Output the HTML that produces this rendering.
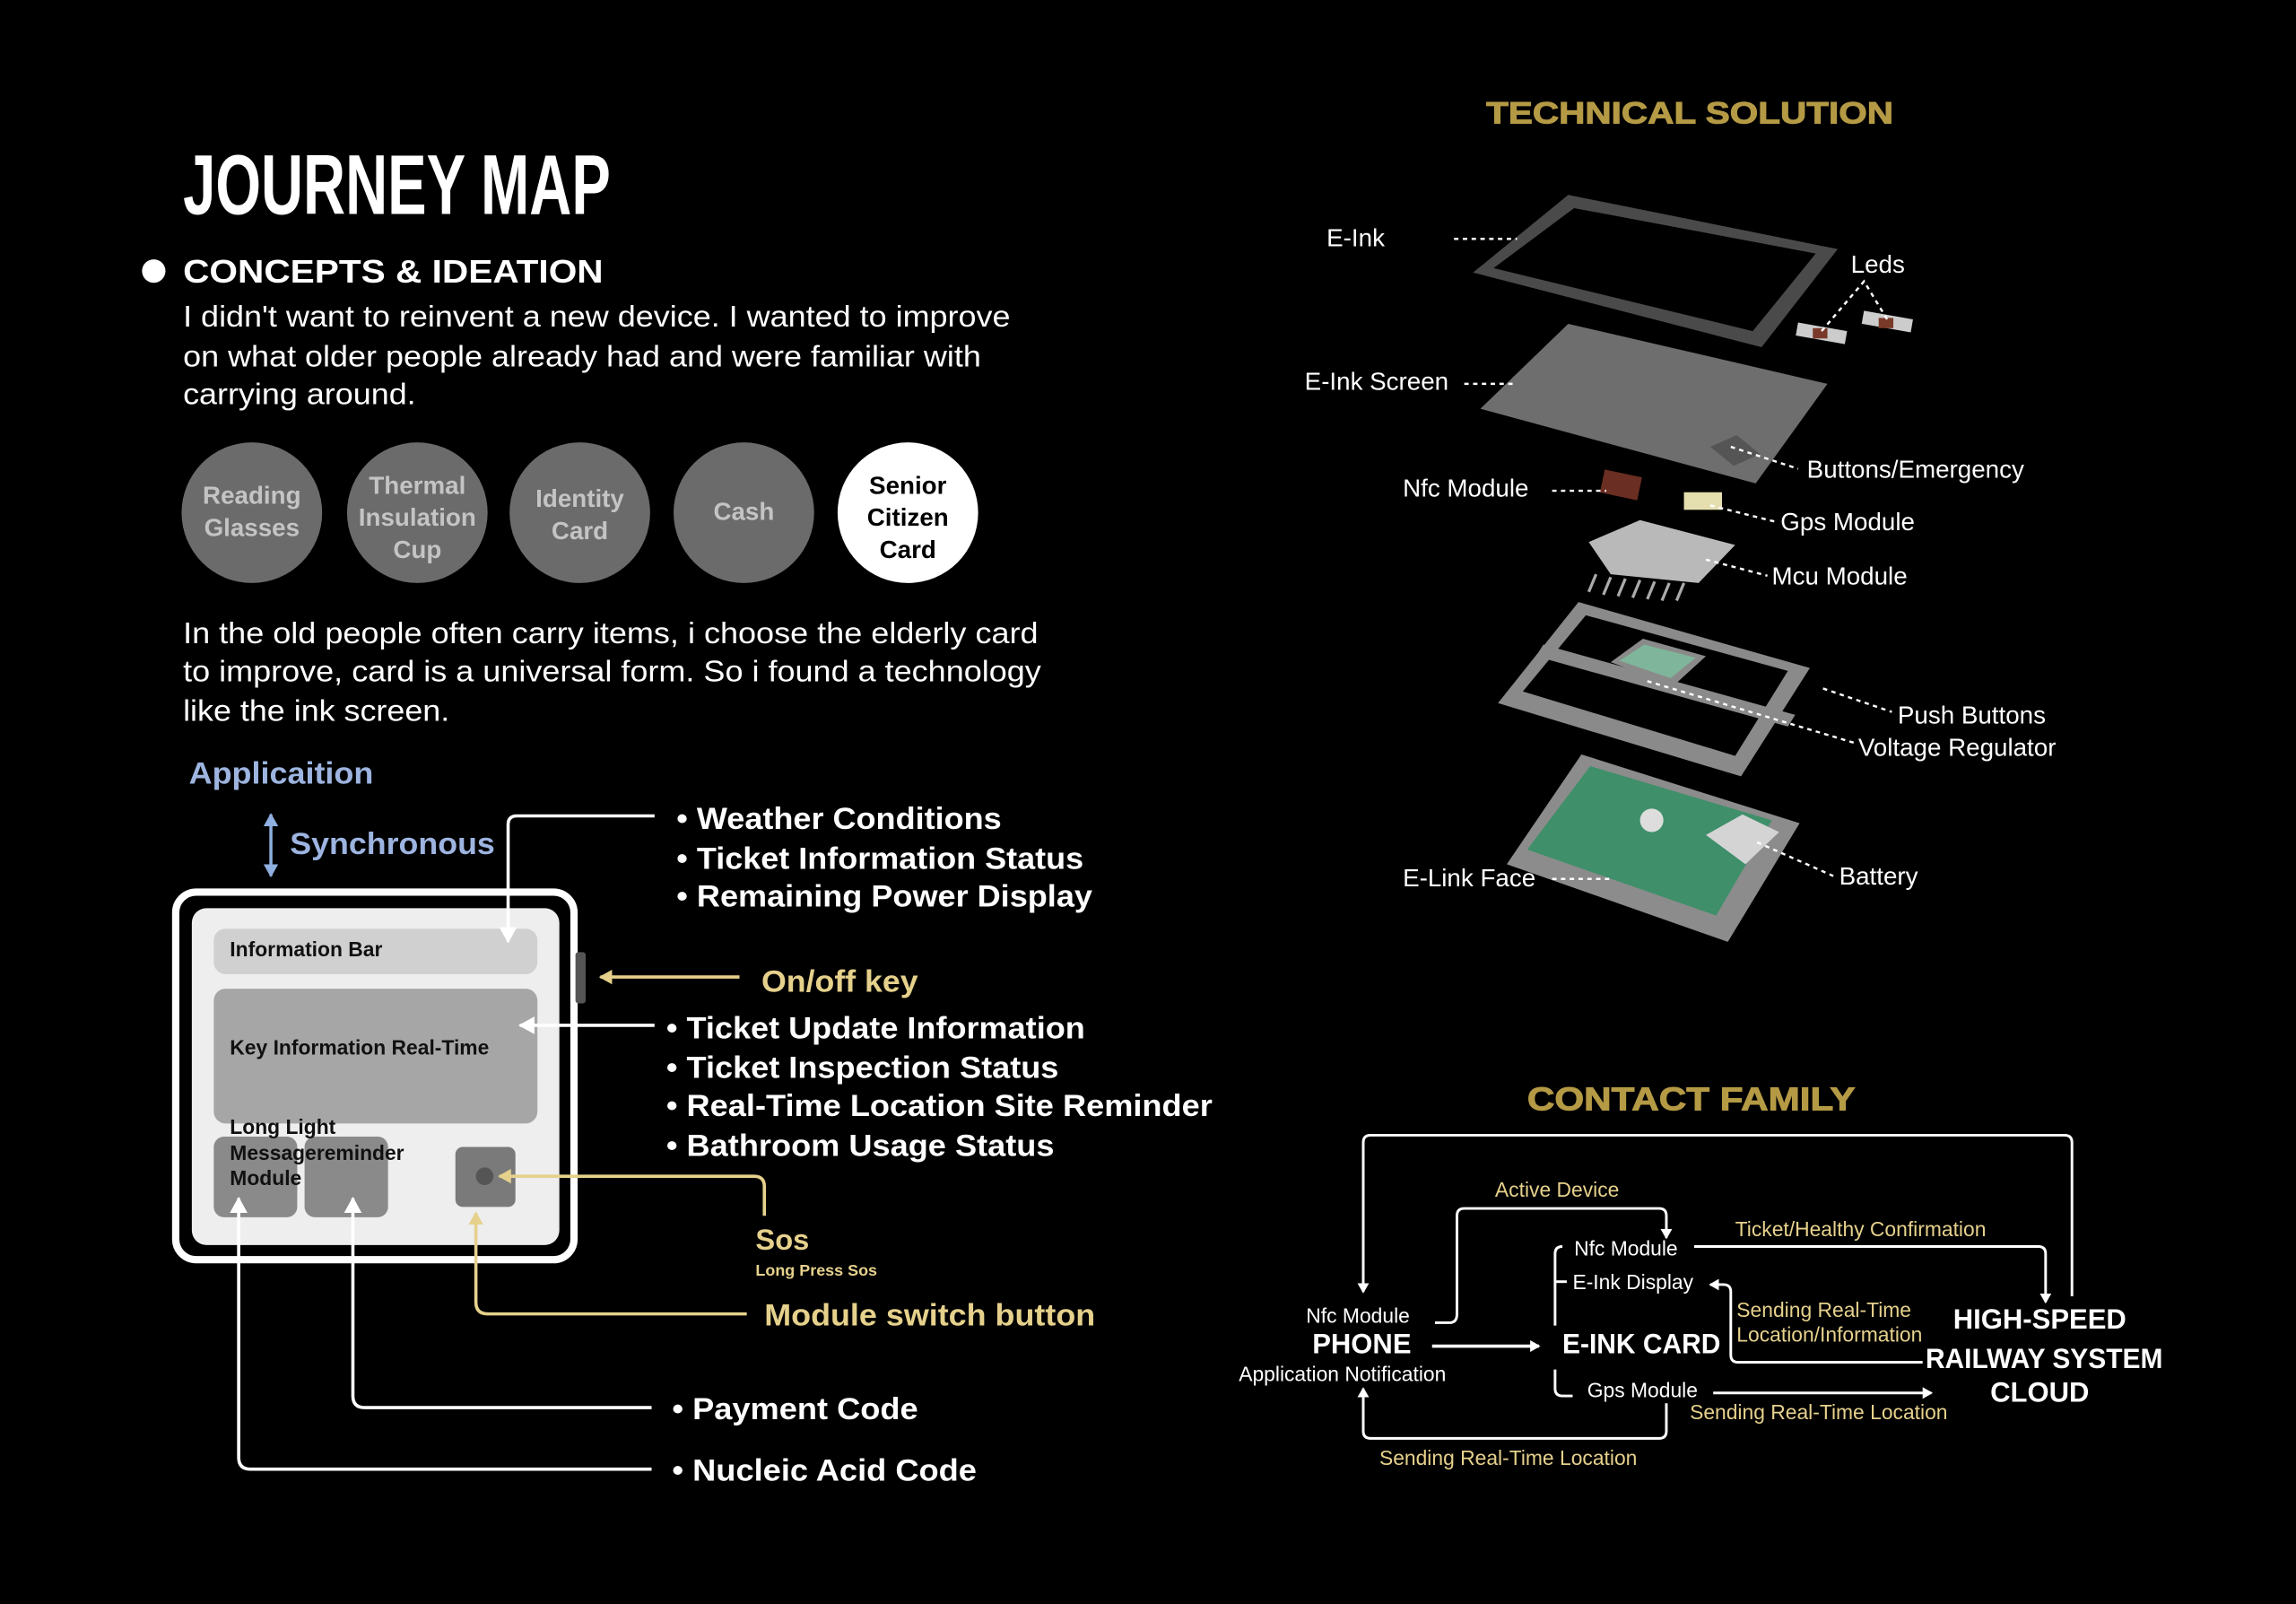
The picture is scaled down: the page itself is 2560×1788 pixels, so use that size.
<!DOCTYPE html>
<html><head><meta charset="utf-8"><style>
html,body{margin:0;padding:0;background:#000;}
svg{display:block}
text{font-family:"Liberation Sans",sans-serif;}
.w{fill:#fff}
.y{fill:#e6d18c}
.b{font-weight:bold}
.n{font-family:"Liberation Sans Narrow","Liberation Sans",sans-serif;}
</style></head><body>
<svg width="2560" height="1788" viewBox="0 0 1568 1095" xmlns="http://www.w3.org/2000/svg">
<defs>
<marker id="aw" markerWidth="8" markerHeight="8" refX="6" refY="4" orient="auto" markerUnits="userSpaceOnUse"><path d="M0,0 L7,4 L0,8 Z" fill="#fff"/></marker>
<marker id="ay" markerWidth="10" markerHeight="10" refX="8" refY="5" orient="auto" markerUnits="userSpaceOnUse"><path d="M0,0 L9,5 L0,10 Z" fill="#e6d18c"/></marker>
<marker id="ab" markerWidth="10" markerHeight="10" refX="8" refY="5" orient="auto" markerUnits="userSpaceOnUse"><path d="M0,0 L9,5 L0,10 Z" fill="#8fb0e0"/></marker>
<marker id="awl" markerWidth="12" markerHeight="12" refX="10" refY="6" orient="auto" markerUnits="userSpaceOnUse"><path d="M0,0 L11,6 L0,12 Z" fill="#fff"/></marker>
</defs>
<rect width="1568" height="1095" fill="#000"/>

<!-- LEFT -->
<text x="125" y="146" class="w b n" font-size="58" textLength="292" lengthAdjust="spacingAndGlyphs">JOURNEY MAP</text>
<circle cx="105" cy="185" r="8" fill="#fff"/>
<text x="125" y="193" class="w b" font-size="22" textLength="287" lengthAdjust="spacingAndGlyphs">CONCEPTS &amp; IDEATION</text>
<g class="w" font-size="20.5">
<text x="125" y="223" textLength="565" lengthAdjust="spacingAndGlyphs">I didn't want to reinvent a new device. I wanted to improve</text>
<text x="125" y="250" textLength="545" lengthAdjust="spacingAndGlyphs">on what older people already had and were familiar with</text>
<text x="125" y="276" textLength="159" lengthAdjust="spacingAndGlyphs">carrying around.</text>
<text x="125" y="439" textLength="584" lengthAdjust="spacingAndGlyphs">In the old people often carry items, i choose the elderly card</text>
<text x="125" y="465" textLength="586" lengthAdjust="spacingAndGlyphs">to improve, card is a universal form. So i found a technology</text>
<text x="125" y="492" textLength="182" lengthAdjust="spacingAndGlyphs">like the ink screen.</text>
</g>
<g font-size="17" font-weight="bold" text-anchor="middle" fill="#c4c4c4">
<circle cx="172" cy="350" r="48" fill="#6b6b6b"/>
<text x="172" y="344">Reading</text><text x="172" y="366">Glasses</text>
<circle cx="285" cy="350" r="48" fill="#6b6b6b"/>
<text x="285" y="337">Thermal</text><text x="285" y="359">Insulation</text><text x="285" y="381">Cup</text>
<circle cx="396" cy="350" r="48" fill="#6b6b6b"/>
<text x="396" y="346">Identity</text><text x="396" y="368">Card</text>
<circle cx="508" cy="350" r="48" fill="#6b6b6b"/>
<text x="508" y="355">Cash</text>
<circle cx="620" cy="350" r="48" fill="#fff"/>
<g fill="#000"><text x="620" y="337">Senior</text><text x="620" y="359">Citizen</text><text x="620" y="381">Card</text></g>
</g>

<text x="129" y="535" font-size="21" font-weight="bold" fill="#9db4e0" textLength="126" lengthAdjust="spacingAndGlyphs">Applicaition</text>
<line x1="185" y1="556" x2="185" y2="598" stroke="#8fb0e0" stroke-width="2" marker-end="url(#ab)"/>
<line x1="185" y1="598" x2="185" y2="556" stroke="#8fb0e0" stroke-width="2" marker-end="url(#ab)"/>
<text x="198" y="583" font-size="21" font-weight="bold" fill="#9db4e0" textLength="140" lengthAdjust="spacingAndGlyphs">Synchronous</text>

<!-- device -->
<rect x="120" y="609" width="272" height="251" rx="14" fill="#000" stroke="#fff" stroke-width="5"/>
<rect x="131" y="620" width="251" height="230" rx="10" fill="#eeeeee"/>
<rect x="146" y="634" width="221" height="31" rx="8" fill="#d0d0d0"/>
<rect x="146" y="675" width="221" height="92" rx="8" fill="#a6a6a6"/>
<rect x="146" y="776" width="57" height="55" rx="7" fill="#8a8a8a"/>
<rect x="208" y="776" width="57" height="55" rx="7" fill="#8a8a8a"/>
<rect x="311" y="783" width="41" height="41" rx="5" fill="#7a7a7a"/>
<circle cx="331" cy="803" r="6" fill="#555"/>
<rect x="393" y="650" width="7" height="35" rx="2" fill="#555"/>
<g font-size="14" font-weight="bold" fill="#111" class="n">
<text x="157" y="653">Information Bar</text>
<text x="157" y="720">Key Information Real-Time</text>
<text x="157" y="774">Long Light</text>
<text x="157" y="792">Messagereminder</text>
<text x="157" y="809">Module</text>
</g>

<g fill="none" stroke-width="2.2">
<path d="M447,557 H353 Q347,557 347,563 V643" stroke="#fff" marker-end="url(#awl)"/>
<path d="M447,700 H355" stroke="#fff" marker-end="url(#awl)"/>
<path d="M505,667 H410" stroke="#e6d18c" marker-end="url(#ay)"/>
<path d="M522,830 V810 Q522,803 515,803 H341" stroke="#e6d18c" marker-end="url(#ay)"/>
<path d="M510,897 H333 Q325,897 325,889 V828" stroke="#e6d18c" marker-end="url(#ay)"/>
<path d="M445,961 H249 Q241,961 241,953 V818" stroke="#fff" marker-end="url(#awl)"/>
<path d="M445,1003 H171 Q163,1003 163,995 V818" stroke="#fff" marker-end="url(#awl)"/>
</g>
<g class="w b n" font-size="21">
<text x="462" y="566" textLength="222" lengthAdjust="spacingAndGlyphs">• Weather Conditions</text>
<text x="462" y="593" textLength="278" lengthAdjust="spacingAndGlyphs">• Ticket Information Status</text>
<text x="462" y="619" textLength="284" lengthAdjust="spacingAndGlyphs">• Remaining Power Display</text>
<text x="455" y="709" textLength="286" lengthAdjust="spacingAndGlyphs">• Ticket Update Information</text>
<text x="455" y="736" textLength="268" lengthAdjust="spacingAndGlyphs">• Ticket Inspection Status</text>
<text x="455" y="762" textLength="373" lengthAdjust="spacingAndGlyphs">• Real-Time Location Site Reminder</text>
<text x="455" y="789" textLength="265" lengthAdjust="spacingAndGlyphs">• Bathroom Usage Status</text>
<text x="459" y="969" textLength="168" lengthAdjust="spacingAndGlyphs">• Payment Code</text>
<text x="459" y="1011" textLength="208" lengthAdjust="spacingAndGlyphs">• Nucleic Acid Code</text>
</g>
<g class="y b n">
<text x="520" y="677" font-size="21" textLength="107" lengthAdjust="spacingAndGlyphs">On/off key</text>
<text x="516" y="853" font-size="20">Sos</text>
<text x="516" y="871" font-size="11">Long Press Sos</text>
<text x="522" y="905" font-size="21" textLength="226" lengthAdjust="spacingAndGlyphs">Module switch button</text>
</g>

<!-- RIGHT: technical -->
<text x="1154" y="84" text-anchor="middle" font-size="21" font-weight="bold" fill="#b59a45" stroke="#b59a45" stroke-width="0.6" textLength="278" lengthAdjust="spacingAndGlyphs">TECHNICAL SOLUTION</text>
<polygon points="1006,186 1071,133 1255,170 1203,237" fill="#4a4a4a"/>
<polygon points="1020,183 1075,142 1240,173 1197,226" fill="#000"/>
<polygon points="1011,279 1071,221 1248,262 1199,330" fill="#6e6e6e"/>
<polygon points="1168,305 1186,297 1202,310 1184,318" fill="#555"/>
<rect x="1227" y="223" width="34" height="9" fill="#ccc" transform="rotate(10 1244 227)"/>
<rect x="1272" y="215" width="34" height="9" fill="#ccc" transform="rotate(10 1289 219)"/>
<rect x="1238" y="224" width="10" height="7" fill="#7a3a2a"/><rect x="1283" y="217" width="10" height="7" fill="#7a3a2a"/>
<rect x="1094" y="323" width="26" height="16" fill="#6a2e22" transform="rotate(12 1107 331)"/>
<rect x="1150" y="336" width="26" height="12" fill="#e5dfb0"/>
<polygon points="1085,370 1120,355 1185,372 1160,398 1100,392" fill="#b9b9b9"/>
<g stroke="#aaa" stroke-width="2">
<line x1="1090" y1="392" x2="1085" y2="404"/><line x1="1100" y1="394" x2="1095" y2="406"/><line x1="1110" y1="395" x2="1105" y2="407"/><line x1="1120" y1="396" x2="1115" y2="408"/><line x1="1130" y1="397" x2="1125" y2="409"/><line x1="1140" y1="398" x2="1135" y2="410"/><line x1="1150" y1="398" x2="1145" y2="410"/>
</g>
<polygon points="1023,480 1078,411 1236,456 1189,530" fill="#8a8a8a"/>
<polygon points="1040,472 1083,420 1221,458 1185,516" fill="#000"/>
<polygon points="1054,440 1226,488 1221,496 1049,448" fill="#8a8a8a"/>
<polygon points="1100,452 1122,436 1165,448 1143,468" fill="#8a8a8a"/>
<polygon points="1106,451 1123,440 1158,449 1141,463" fill="#7fb59a"/>
<polygon points="1029,590 1080,515 1229,562 1180,643" fill="#8c8c8c"/>
<polygon points="1043,580 1086,523 1210,560 1172,625" fill="#3f8f6a"/>
<polygon points="1165,570 1190,556 1215,568 1192,590" fill="#d4d4d4"/>
<circle cx="1128" cy="560" r="8" fill="#ddd"/>
<g fill="none" stroke="#fff" stroke-width="1.5" stroke-dasharray="3,3">
<line x1="993" y1="163" x2="1036" y2="163"/>
<path d="M1244,226 L1273,192 L1290,220"/>
<line x1="1000" y1="262" x2="1036" y2="262"/>
<line x1="1182" y1="305" x2="1228" y2="320"/>
<line x1="1060" y1="335" x2="1097" y2="335"/>
<line x1="1168" y1="345" x2="1212" y2="356"/>
<line x1="1165" y1="382" x2="1207" y2="393"/>
<line x1="1245" y1="470" x2="1292" y2="486"/>
<line x1="1125" y1="465" x2="1266" y2="507"/>
<line x1="1060" y1="600" x2="1100" y2="600"/>
<line x1="1200" y1="575" x2="1252" y2="598"/>
</g>
<g class="w" font-size="17">
<text x="906" y="168">E-Ink</text>
<text x="1264" y="186">Leds</text>
<text x="891" y="266">E-Ink Screen</text>
<text x="1234" y="326">Buttons/Emergency</text>
<text x="958" y="339">Nfc Module</text>
<text x="1216" y="362">Gps Module</text>
<text x="1210" y="399">Mcu Module</text>
<text x="1296" y="494">Push Buttons</text>
<text x="1269" y="516">Voltage Regulator</text>
<text x="958" y="605">E-Link Face</text>
<text x="1256" y="604">Battery</text>
</g>

<!-- CONTACT FAMILY -->
<text x="1155" y="758" text-anchor="middle" font-size="22" font-weight="bold" fill="#b59a45" stroke="#b59a45" stroke-width="0.6" textLength="224" lengthAdjust="spacingAndGlyphs">CONTACT FAMILY</text>
<g fill="none" stroke="#fff" stroke-width="1.8">
<path d="M1415,885 V780 Q1415,775 1410,775 H936 Q931,775 931,780 V882" marker-end="url(#aw)"/>
<path d="M980,903 H990 Q995,903 995,897 V830 Q995,825 1000,825 H1133 Q1138,825 1138,830 V845" marker-end="url(#aw)"/>
<path d="M1067,851 Q1062,851 1062,856 V905"/>
<path d="M1062,875 H1070"/>
<path d="M1062,935 V948 Q1062,953 1067,953 H1074"/>
<path d="M978,919 H1051" stroke-width="2.2" marker-end="url(#aw)"/>
<path d="M1157,851 H1392 Q1397,851 1397,856 V889" marker-end="url(#aw)"/>
<path d="M1313,930 H1187 Q1182,930 1182,925 V882 Q1182,877 1177,877 H1168" marker-end="url(#aw)"/>
<path d="M1170,951 H1319" marker-end="url(#aw)"/>
<path d="M1138,958 V977 Q1138,982 1133,982 H936 Q931,982 931,977 V948" marker-end="url(#aw)"/>
</g>
<g class="w n" font-size="14">
<text x="892" y="903">Nfc Module</text>
<text x="846" y="943">Application Notification</text>
<text x="1075" y="857">Nfc Module</text>
<text x="1074" y="880">E-Ink Display</text>
<text x="1084" y="954">Gps Module</text>
</g>
<g class="w b n" font-size="19">
<text x="930" y="924" text-anchor="middle">PHONE</text>
<text x="1067" y="924" textLength="108" lengthAdjust="spacingAndGlyphs">E-INK CARD</text>
<text x="1393" y="907" text-anchor="middle">HIGH-SPEED</text>
<text x="1396" y="934" text-anchor="middle" textLength="162" lengthAdjust="spacingAndGlyphs">RAILWAY SYSTEM</text>
<text x="1393" y="957" text-anchor="middle">CLOUD</text>
</g>
<g class="y n" font-size="14">
<text x="1021" y="817">Active Device</text>
<text x="1185" y="844">Ticket/Healthy Confirmation</text>
<text x="1186" y="899">Sending Real-Time</text>
<text x="1186" y="916">Location/Information</text>
<text x="1154" y="969">Sending Real-Time Location</text>
<text x="942" y="1000">Sending Real-Time Location</text>
</g>
</svg>
</body></html>
